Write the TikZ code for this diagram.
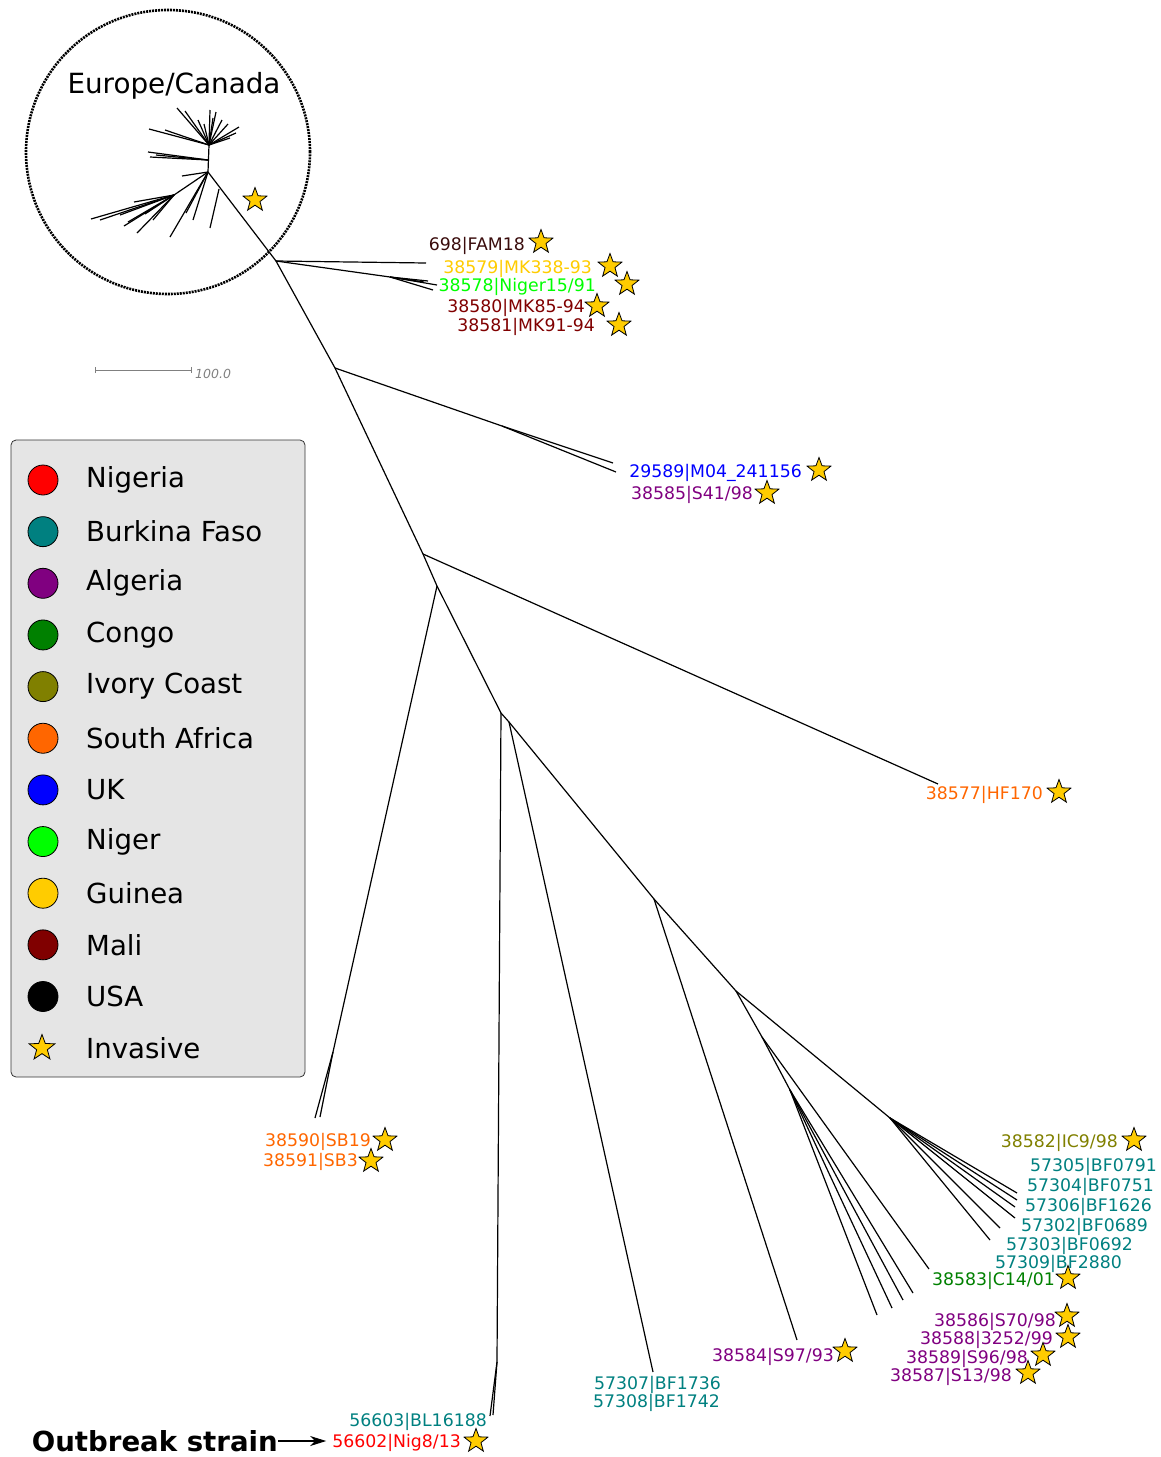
\documentclass[tikz,border=0pt]{standalone}
\usepackage{fontspec}
\setmainfont{DejaVu Sans}
\usetikzlibrary{shapes.geometric,arrows.meta}
\definecolor{cNig}{HTML}{FF0000}
\definecolor{cBF}{HTML}{008080}
\definecolor{cAlg}{HTML}{800080}
\definecolor{cCon}{HTML}{008000}
\definecolor{cIC}{HTML}{808000}
\definecolor{cSA}{HTML}{FF6600}
\definecolor{cUK}{HTML}{0000FF}
\definecolor{cNgr}{HTML}{00FF00}
\definecolor{cGui}{HTML}{FFCC00}
\definecolor{cMali}{HTML}{800000}
\definecolor{cUSA}{HTML}{3A0C0C}
\definecolor{legbg}{HTML}{E5E5E5}
\begin{document}
\begin{tikzpicture}[x=1pt,y=-1pt]
	\tikzstyle{branch} = [line width=1.2pt]
	\tikzstyle{tip} = [inner sep=0pt,anchor=east,font=\fontsize{17.3}{19}\selectfont]
	\tikzstyle{inv} = [star,star points=5,star point ratio=2.4,draw,fill=cGui,minimum size=25pt,inner sep=0pt,line width=0.8pt]
	\tikzstyle{dot} = [circle,draw,line width=0.8pt,minimum size=30pt,inner sep=0pt]
	\tikzstyle{legtext} = [anchor=west,inner sep=0pt,font=\fontsize{27.6}{30}\selectfont]

	\useasboundingbox (0,0) rectangle (1160,1457);

	% Europe/Canada cluster
	\node[circle,draw,line width=2.6pt,dash pattern=on 2pt off 1pt,minimum size=284pt] (eu) at (168,152) {};
	\node[inner sep=0pt,font=\fontsize{27.8}{30}\selectfont] (eutitle) at (174,86) {Europe/Canada};
	\coordinate (e0) at (208,172);
	\coordinate (e1) at (209,145);
	\coordinate (e2) at (208,160);
	\coordinate (e3) at (174,195);
	\coordinate (e4) at (219,189);
	\draw[branch] (e0) -- (e1);
	\draw[branch] (e0) -- (e3);
	\foreach \x/\y [count=\k] in {177/108,185/111,198/120,204/124,210/110,216/112,213/118,222/120,228/124,239/127,230/138,236/133,149/129,165/130}
		{\coordinate (ea\k) at (\x,\y); \draw[branch] (e1) -- (ea\k);}
	\foreach \x/\y [count=\k] in {148/152,150/157,156/155}
		{\coordinate (eb\k) at (\x,\y); \draw[branch] (e2) -- (eb\k);}
	\foreach \x/\y [count=\k] in {91/219,100/220,124/226,137/233,153/220,134/202,120/215,145/214,128/222}
		{\coordinate (ec\k) at (\x,\y); \draw[branch] (e3) -- (ec\k);}
	\foreach \x/\y [count=\k] in {182/176,170/237,186/213,193/220}
		{\coordinate (ed\k) at (\x,\y); \draw[branch] (e0) -- (ed\k);}
	\coordinate (ee1) at (210,228);
	\draw[branch] (e4) -- (ee1);
	\node[inv] (s0) at (255,200) {};

	% backbone
	\coordinate (n1) at (276,261);
	\coordinate (n2) at (335,368);
	\coordinate (n3) at (423,554);
	\coordinate (n4) at (437,586);
	\coordinate (n5) at (501,713);
	\coordinate (n6) at (509,722);
	\coordinate (n7) at (654,899);
	\coordinate (n8) at (736,991);
	\coordinate (n9) at (890,1118);
	\draw[branch] (e0) -- (n1) -- (n2) -- (n3) -- (n4) -- (n5) -- (n6) -- (n7) -- (n8) -- (n9);

	% Mali / Guinea / Niger / USA
	\coordinate (t1) at (426,263);
	\draw[branch] (n1) -- (t1);
	\coordinate (m1) at (390,277);
	\draw[branch] (n1) -- (m1);
	\foreach \x/\y [count=\k] in {424/282,428/281,437/285,433/290}
		{\coordinate (mt\k) at (\x,\y); \draw[branch] (m1) -- (mt\k);}
	\node[tip,text=cUSA] (l1) at (525,246) {698|FAM18};
	\node[tip,text=cGui] (l2) at (592,269) {38579|MK338-93};
	\node[tip,text=cNgr] (l3) at (596,287) {38578|Niger15/91};
	\node[tip,text=cMali] (l4) at (585,308) {38580|MK85-94};
	\node[tip,text=cMali] (l5) at (595,327) {38581|MK91-94};
	\node[inv] (s1) at (541,242) {};
	\node[inv] (s2) at (610,266) {};
	\node[inv] (s3) at (627,284) {};
	\node[inv] (s4) at (597,306) {};
	\node[inv] (s5) at (619,325) {};

	% UK / Algeria
	\coordinate (u1) at (502,426);
	\coordinate (ut1) at (613,463);
	\coordinate (ut2) at (616,472);
	\draw[branch] (n2) -- (u1) -- (ut1);
	\draw[branch] (u1) -- (ut2);
	\node[tip,text=cUK] (l6) at (802,473) {29589|M04\_241156};
	\node[tip,text=cAlg] (l7) at (753,495) {38585|S41/98};
	\node[inv] (s6) at (819,470) {};
	\node[inv] (s7) at (767,493) {};

	% South Africa
	\coordinate (t2) at (938,784);
	\draw[branch] (n3) -- (t2);
	\node[tip,text=cSA] (l8) at (1043,795) {38577|HF170};
	\node[inv] (s8) at (1059,792) {};
	\coordinate (sa1) at (333,1052);
	\coordinate (sat1) at (315,1118);
	\coordinate (sat2) at (320,1117);
	\draw[branch] (n4) -- (sa1) -- (sat1);
	\draw[branch] (sa1) -- (sat2);
	\node[tip,text=cSA] (l9) at (371,1142) {38590|SB19};
	\node[tip,text=cSA] (l10) at (358,1162) {38591|SB3};
	\node[inv] (s9) at (385,1140) {};
	\node[inv] (s10) at (371,1161) {};

	% Nigeria outbreak
	\coordinate (b1) at (497,1362);
	\coordinate (bt1) at (490,1416);
	\coordinate (bt2) at (493,1415);
	\draw[branch] (n5) -- (b1) -- (bt1);
	\draw[branch] (b1) -- (bt2);
	\node[tip,text=cBF] (l11) at (487,1422) {56603|BL16188};
	\node[tip,text=cNig] (l12) at (461,1443) {56602|Nig8/13};
	\node[inv] (s11) at (476,1441) {};
	\node[anchor=east,inner sep=0pt,font=\bfseries\fontsize{27.6}{30}\selectfont] (ob) at (278,1441) {Outbreak strain};
	\draw[-{Stealth[length=16pt,width=10pt,inset=5pt]},line width=1.1pt,shorten >=6pt] (ob.east) -- (l12.west |- ob.east);

	% Burkina Faso / Algeria
	\coordinate (t3) at (653,1372);
	\draw[branch] (n6) -- (t3);
	\node[tip,text=cBF] (l13) at (721,1385) {57307|BF1736};
	\node[tip,text=cBF] (l14) at (720,1403) {57308|BF1742};
	\coordinate (t4) at (797,1340);
	\draw[branch] (n7) -- (t4);
	\node[tip,text=cAlg] (l15) at (834,1357) {38584|S97/93};
	\node[inv] (s15) at (845,1351) {};
	\coordinate (a1) at (762,1037);
	\coordinate (a2) at (790,1090);
	\coordinate (t5) at (929,1269);
	\draw[branch] (n8) -- (a1) -- (a2);
	\draw[branch] (a1) -- (t5);
	\foreach \x/\y [count=\k] in {877/1315,892/1308,903/1300,913/1293}
		{\coordinate (at\k) at (\x,\y); \draw[branch] (a2) -- (at\k);}
	\foreach \x/\y [count=\k] in {1017/1193,1017/1200,1015/1207,1015/1218,1000/1228,990/1240}
		{\coordinate (ct\k) at (\x,\y); \draw[branch] (n9) -- (ct\k);}
	\node[tip,text=cIC] (l16) at (1118,1143) {38582|IC9/98};
	\node[tip,text=cBF] (l17) at (1157,1167) {57305|BF0791};
	\node[tip,text=cBF] (l18) at (1154,1187) {57304|BF0751};
	\node[tip,text=cBF] (l19) at (1152,1207) {57306|BF1626};
	\node[tip,text=cBF] (l20) at (1148,1227) {57302|BF0689};
	\node[tip,text=cBF] (l21) at (1133,1246) {57303|BF0692};
	\node[tip,text=cBF] (l22) at (1122,1264) {57309|BF2880};
	\node[tip,text=cCon] (l23) at (1055,1281) {38583|C14/01};
	\node[tip,text=cAlg] (l24) at (1056,1322) {38586|S70/98};
	\node[tip,text=cAlg] (l25) at (1053,1340) {38588|3252/99};
	\node[tip,text=cAlg] (l26) at (1028,1359) {38589|S96/98};
	\node[tip,text=cAlg] (l27) at (1012,1377) {38587|S13/98};
	\node[inv] (s16) at (1134,1140) {};
	\node[inv] (s23) at (1068,1278) {};
	\node[inv] (s24) at (1067,1316) {};
	\node[inv] (s25) at (1068,1337) {};
	\node[inv] (s26) at (1043,1355) {};
	\node[inv] (s27) at (1028,1373) {};

	% scale bar
	\coordinate (sb0) at (95,370);
	\coordinate (sb1) at (192,370);
	\draw[gray,line width=0.8pt,|-|] (sb0) -- (sb1);
	\node[anchor=west,inner sep=0pt,text=gray,font=\itshape\fontsize{12.5}{14}\selectfont] (sbl) at (195,374) {100.0};

	% legend
	\node[draw=black!80,line width=0.8pt,rounded corners=5pt,fill=legbg,minimum width=294pt,minimum height=637pt] (leg) at (158,758.5) {};
	\foreach \c/\t [count=\i] in {cNig/Nigeria,cBF/Burkina Faso,cAlg/Algeria,cCon/Congo,cIC/Ivory Coast,cSA/South Africa,cUK/UK,cNgr/Niger,cGui/Guinea,cMali/Mali,black/USA}
	{
		\node[dot,fill=\c] (ld\i) at (43,{480+(\i-1)*51.65}) {};
		\node[legtext] (lt\i) at (86,{480+(\i-1)*51.65}) {\t};
	}
	\node[inv,minimum size=27pt] (ld12) at (42,1048) {};
	\node[legtext] (lt12) at (86,1048) {Invasive};
\end{tikzpicture}
\end{document}
